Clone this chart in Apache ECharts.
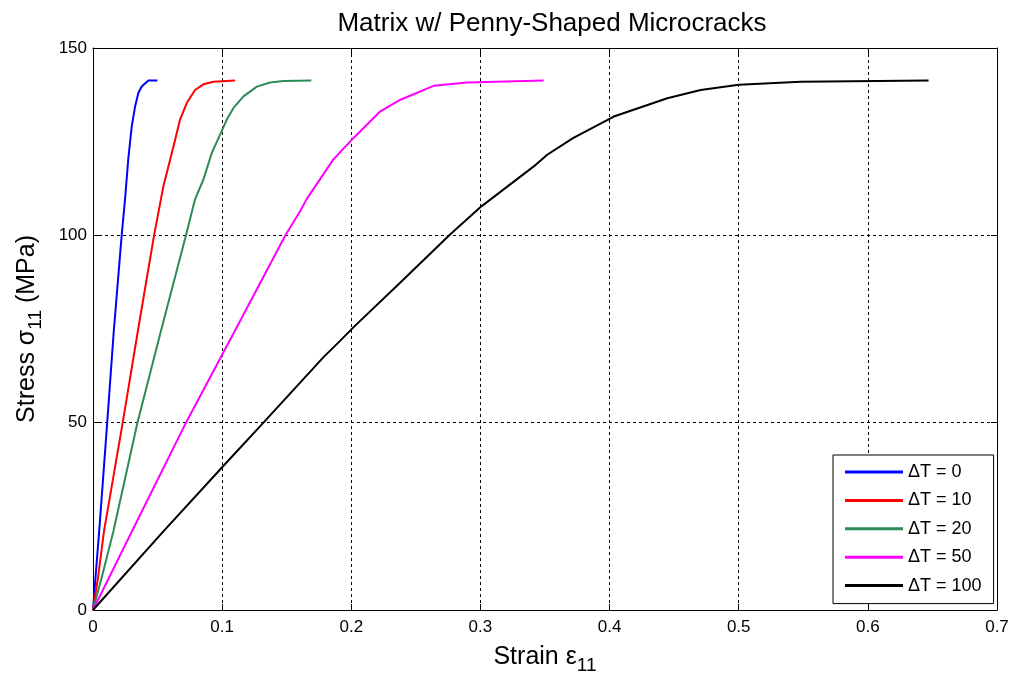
<!DOCTYPE html>
<html>
<head>
<meta charset="utf-8">
<script src="https://cdn.jsdelivr.net/npm/echarts@6/dist/echarts.min.js"></script>
<style>
  html, body { margin: 0; padding: 0; background: #fff; }
  #chart { width: 1020px; height: 680px; }
</style>
</head>
<body>
<div id="chart"></div>
<script>
// Stress–strain response of a matrix containing penny-shaped microcracks,
// one curve per temperature change ΔT.
const seriesNames = ['ΔT = 0', 'ΔT = 10', 'ΔT = 20', 'ΔT = 50', 'ΔT = 100'];
const seriesColors = ['#0000ff', '#ff0000', '#2e8b57', '#ff00ff', '#000000'];

const strainT0 = [0, 0.002, 0.005, 0.011, 0.016, 0.0222, 0.0248, 0.0274, 0.030, 0.0326, 0.0351, 0.0377, 0.0429, 0.0499];
const stressT0 = [0, 9, 22, 50, 74, 100, 109.6, 120.7, 129.1, 134.4, 138.0, 139.7, 141.3, 141.3];

const strainT10 = [0, 0.004, 0.0085, 0.023, 0.035, 0.0473, 0.0506, 0.0545, 0.0584, 0.0636, 0.0674, 0.0726, 0.079, 0.0855, 0.0933, 0.110];
const stressT10 = [0, 9, 21, 50, 75, 100, 106, 113.1, 118.4, 125.5, 130.9, 135.3, 138.8, 140.3, 141.0, 141.3];

const strainT20 = [0, 0.007, 0.0158, 0.0344, 0.053, 0.072, 0.079, 0.0855, 0.092, 0.0984, 0.1036, 0.1088, 0.1165, 0.1269, 0.1372, 0.1475, 0.169];
const stressT20 = [0, 9, 21, 50, 75, 100, 109.6, 114.9, 122.0, 126.9, 130.9, 134.0, 137.1, 139.7, 140.8, 141.2, 141.3];

const strainT50 = [0, 0.030, 0.072, 0.1106, 0.149, 0.1605, 0.1653, 0.186, 0.2018, 0.2225, 0.238, 0.2638, 0.2897, 0.349];
const stressT50 = [0, 20.9, 50, 75, 100, 106.5, 109.6, 120.2, 126.0, 133.1, 136.2, 139.9, 140.8, 141.3];

const strainT100 = [0, 0.0545, 0.1016, 0.132, 0.1785, 0.1915, 0.2018, 0.238, 0.2767, 0.301, 0.3413, 0.3517, 0.372, 0.4033, 0.4447, 0.4705, 0.50, 0.548, 0.647];
const stressT100 = [0, 21, 38.7, 50, 67.5, 71.9, 75.5, 87.4, 100.3, 107.8, 118.4, 121.5, 126.0, 131.7, 136.6, 138.8, 140.2, 141.0, 141.3];

const strainTicks = [0, 0.1, 0.2, 0.3, 0.4, 0.5, 0.6, 0.7];
const stressTicks = [0, 50, 100, 150];

const curves = [
  [strainT0, stressT0],
  [strainT10, stressT10],
  [strainT20, stressT20],
  [strainT50, stressT50],
  [strainT100, stressT100]
];

const FONT = 'Liberation Sans, Arial, sans-serif';

// Top and right edges of the axes box, with inward ticks and no labels.
const boxAxis = {
  axisLine: { show: true, onZero: false, lineStyle: { color: '#000', width: 1 } },
  axisTick: { show: true, inside: true, length: 6, lineStyle: { color: '#000' } },
  axisLabel: { show: false },
  splitLine: { show: false }
};

const nameStyle = {
  fontFamily: FONT, fontSize: 25, color: '#000',
  rich: { sub: { fontFamily: FONT, fontSize: 19, color: '#000', padding: [16, 0, 0, 0] } }
};

const chart = echarts.init(document.getElementById('chart'), null, { renderer: 'canvas' });

chart.setOption({
  backgroundColor: '#fff',
  animation: false,
  title: {
    text: 'Matrix w/ Penny-Shaped Microcracks',
    left: 547,
    top: 6,
    textAlign: 'center',
    textStyle: { fontFamily: FONT, fontSize: 26, fontWeight: 'normal', color: '#000' }
  },
  grid: { left: 93, right: 23, top: 48, bottom: 68, containLabel: false },
  xAxis: [
    {
      type: 'value',
      min: strainTicks[0],
      max: strainTicks[strainTicks.length - 1],
      interval: 0.1,
      position: 'bottom',
      name: 'Strain ε{sub|11}',
      nameLocation: 'middle',
      nameGap: 30,
      nameTextStyle: nameStyle,
      axisLine: { show: true, onZero: false, lineStyle: { color: '#000', width: 1 } },
      axisTick: { show: true, inside: true, length: 6, lineStyle: { color: '#000' } },
      axisLabel: {
        fontFamily: FONT, fontSize: 17, color: '#000', margin: 9,
        formatter: v => String(Math.round(v * 10) / 10)
      },
      splitLine: { show: true, lineStyle: { color: '#000', type: [3, 3], width: 1 } }
    },
    Object.assign({ type: 'value', min: 0, max: 0.7, interval: 0.1, position: 'top' }, boxAxis)
  ],
  yAxis: [
    {
      type: 'value',
      min: stressTicks[0],
      max: stressTicks[stressTicks.length - 1],
      interval: 50,
      position: 'left',
      name: 'Stress σ{sub|11} (MPa)',
      nameLocation: 'middle',
      nameGap: 48,
      nameTextStyle: nameStyle,
      axisLine: { show: true, onZero: false, lineStyle: { color: '#000', width: 1 } },
      axisTick: { show: true, inside: true, length: 6, lineStyle: { color: '#000' } },
      axisLabel: { fontFamily: FONT, fontSize: 17, color: '#000', margin: 6 },
      splitLine: { show: true, lineStyle: { color: '#000', type: [3, 3], width: 1 } }
    },
    Object.assign({ type: 'value', min: 0, max: 150, interval: 50, position: 'right' }, boxAxis)
  ],
  legend: {
    orient: 'vertical',
    left: 833,
    top: 455,
    padding: [8, 12, 9, 12],
    itemWidth: 58,
    itemHeight: 3,
    itemGap: 10.4,
    icon: 'rect',
    borderColor: '#000',
    borderWidth: 1,
    borderRadius: 0,
    backgroundColor: '#fff',
    textStyle: { fontFamily: FONT, fontSize: 18, color: '#000', lineHeight: 18 },
    data: seriesNames
  },
  series: curves.map((c, i) => ({
    name: seriesNames[i],
    type: 'line',
    xAxisIndex: 0,
    yAxisIndex: 0,
    showSymbol: false,
    smooth: false,
    color: seriesColors[i],
    lineStyle: { color: seriesColors[i], width: 2 },
    data: c[0].map((x, k) => [x, c[1][k]])
  }))
});
</script>
</body>
</html>
